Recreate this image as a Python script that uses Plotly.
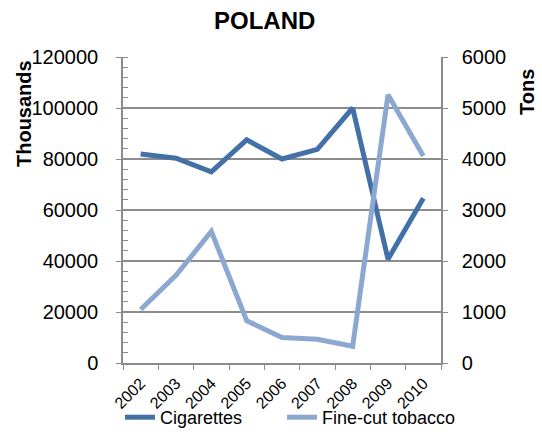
import plotly.graph_objects as go

years = ["2002", "2003", "2004", "2005", "2006", "2007", "2008", "2009", "2010"]
cigarettes = [82000, 80300, 75000, 87500, 80000, 83800, 100000, 40700, 64600]   # thousands
fine_cut = [1050, 1720, 2580, 830, 500, 465, 330, 5260, 4060]                   # tons

left_ticks = [0, 20000, 40000, 60000, 80000, 100000, 120000]
right_ticks = [0, 1000, 2000, 3000, 4000, 5000, 6000]

FONT = "Liberation Sans, Arial, sans-serif"
DARK = "#4470A8"
LIGHT = "#8DA8D0"
GRID = "#8C8C8C"

fig = go.Figure()
fig.add_trace(go.Scatter(x=years, y=cigarettes, name="Cigarettes", mode="lines",
                         line=dict(color=DARK, width=5), yaxis="y", legend="legend"))
fig.add_trace(go.Scatter(x=years, y=fine_cut, name="Fine-cut tobacco", mode="lines",
                         line=dict(color=LIGHT, width=5), yaxis="y2", legend="legend2"))

legend_style = dict(orientation="h", xref="container", yref="container",
                    xanchor="left", y=0.0, yanchor="bottom",
                    font=dict(size=18), itemwidth=30, bgcolor="rgba(0,0,0,0)")

fig.update_layout(
    width=542, height=436,
    margin=dict(l=123, r=101, t=57, b=73, autoexpand=False),
    paper_bgcolor="white", plot_bgcolor="white",
    font=dict(family=FONT, color="black"),
    showlegend=True,
    legend=dict(x=120 / 542, **legend_style),
    legend2=dict(x=282 / 542, **legend_style),
    xaxis=dict(type="category", range=[-0.5, 8.5], tickson="boundaries",
               ticks="outside", ticklen=5, automargin=False, ticklabelstandoff=3,
               tickcolor=GRID, showline=True, linecolor=GRID, linewidth=1.5,
               showgrid=False, tickangle=-45, tickfont=dict(size=16)),
    yaxis=dict(range=[0, 120000], tickvals=left_ticks, ticktext=[str(v) for v in left_ticks],
               showgrid=True, gridcolor=GRID, gridwidth=1.5, zeroline=False,
               showline=True, linecolor=GRID, linewidth=1.5, automargin=False,
               ticks="outside", ticklen=5, tickcolor=GRID, ticklabelstandoff=14,
               tickfont=dict(size=20),
               minor=dict(dtick=4000, ticks="inside", ticklen=5, tickcolor=GRID, showgrid=False)),
    yaxis2=dict(range=[0, 6000], tickvals=right_ticks, ticktext=[str(v) for v in right_ticks],
                overlaying="y", side="right", showgrid=False, zeroline=False,
                showline=True, linecolor=GRID, linewidth=1.5, automargin=False,
                ticks="outside", ticklen=5, tickcolor=GRID, ticklabelstandoff=10,
                tickfont=dict(size=20)),
)

fig.add_annotation(text="<b>POLAND</b>", xref="paper", yref="paper",
                   x=(264 - 123) / 318, y=1 + (57 - 21) / 306,
                   showarrow=False, font=dict(size=24), xanchor="center", yanchor="middle")
fig.add_annotation(text="<b>Thousands</b>", xref="paper", yref="paper",
                   x=-(123 - 24) / 318, y=(363 - 114) / 306, textangle=-90,
                   showarrow=False, font=dict(size=20), xanchor="center", yanchor="middle")
fig.add_annotation(text="<b>Tons</b>", xref="paper", yref="paper",
                   x=1 + (527 - 441) / 318, y=(363 - 92) / 306, textangle=-90,
                   showarrow=False, font=dict(size=20), xanchor="center", yanchor="middle")

fig.write_html("out.html")
